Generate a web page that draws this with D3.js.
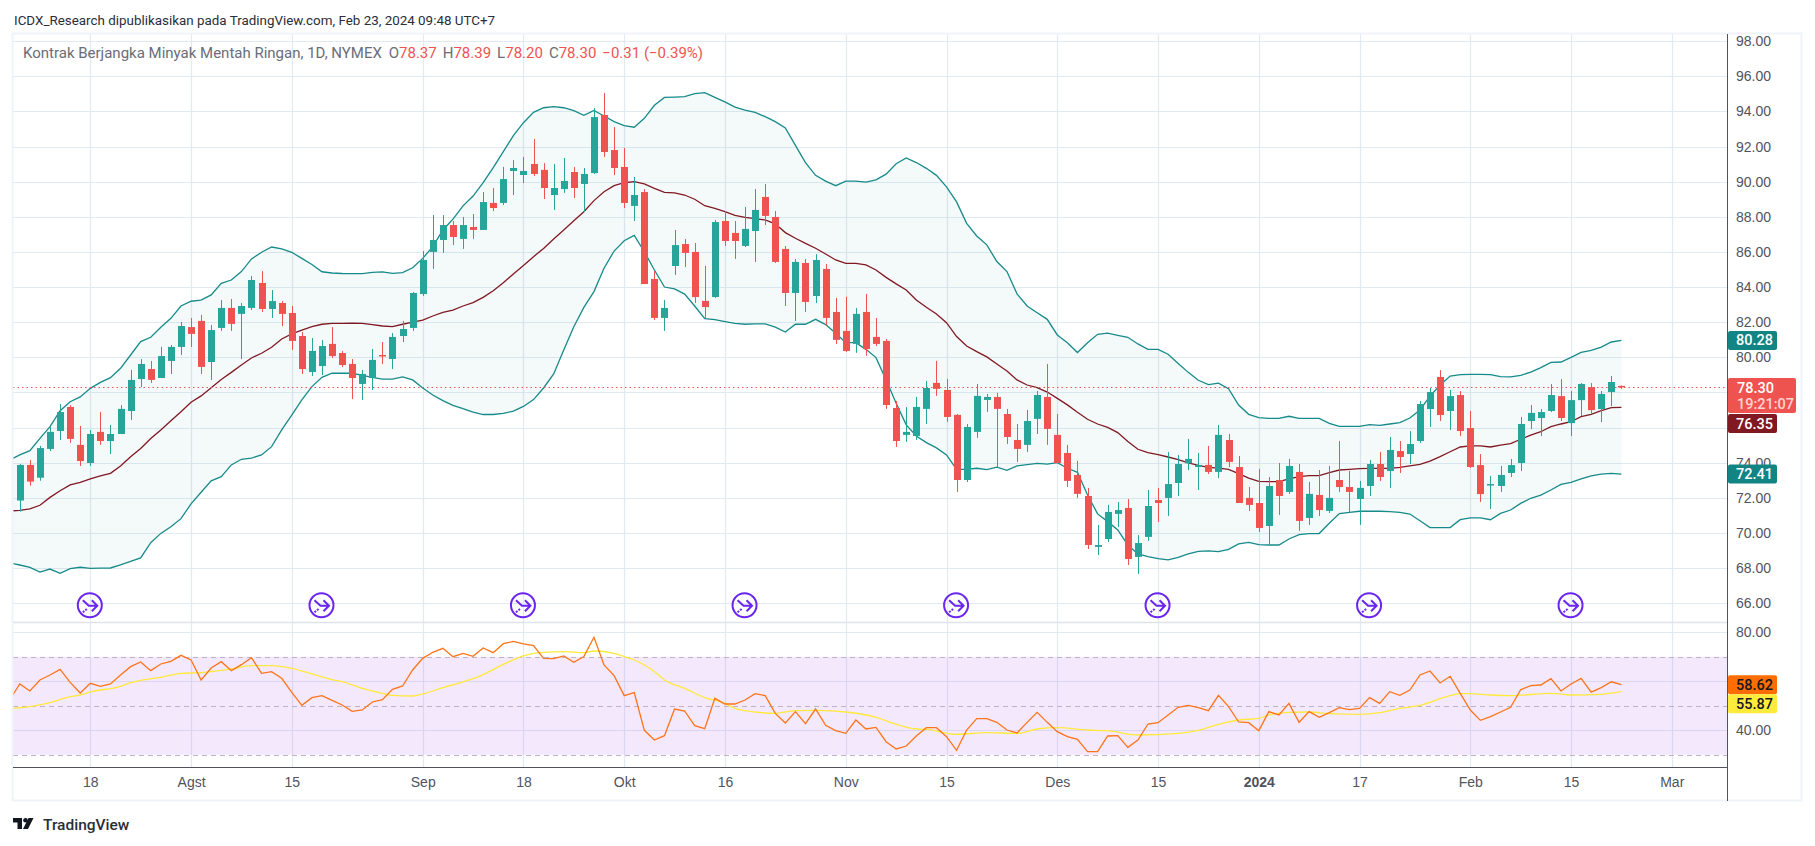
<!DOCTYPE html>
<html>
<head>
<meta charset="utf-8">
<title>Kontrak Berjangka Minyak Mentah Ringan</title>
<script src="https://cdn.jsdelivr.net/npm/d3@7"></script>
<style>
  html, body { margin: 0; padding: 0; background: #fff; }
  svg { display: block; font-family: Roboto, "Liberation Sans", sans-serif; }
  .axis text { fill: #50535e; font-size: 14px; }
</style>
</head>
<body>
<div id="chart"></div>
<script>
// Daily candles, bar 0 = Jul 7 2023, bar 159 = Feb 23 2024
const opens = [
  71.84,73.87,73.14,74.78,75.80,77.17,75.01,73.98,75.75,75.23,
  75.63,76.94,78.76,79.33,78.82,79.79,80.59,81.72,82.07,79.73,
  81.67,82.81,82.47,82.81,84.23,82.75,83.09,82.52,81.21,79.16,
  79.50,80.76,80.24,79.62,78.48,78.82,80.13,79.90,81.21,81.67,
  83.60,86.00,86.68,87.53,86.74,87.42,87.25,88.79,88.79,90.61,
  90.38,91.01,90.67,89.24,89.58,90.55,89.87,90.49,93.80,91.80,
  90.84,88.62,89.41,84.46,82.24,85.20,86.45,86.00,83.21,83.43,
  87.76,87.08,86.34,87.19,89.13,87.99,86.17,83.66,85.37,83.49,
  85.03,82.58,81.50,80.76,82.58,81.16,80.93,77.11,75.58,75.52,
  77.06,78.54,78.14,76.72,73.01,75.75,77.57,77.74,76.77,75.29,
  75.01,76.49,77.74,75.58,74.55,73.30,72.10,69.20,69.65,71.08,
  71.42,68.63,69.77,71.87,71.99,72.84,73.96,73.75,73.87,73.47,
  75.29,73.75,71.99,71.70,70.39,73.01,72.33,73.47,70.85,72.16,
  71.25,73.01,72.61,71.93,72.67,73.92,73.52,74.66,74.49,75.23,
  77.05,78.88,76.94,77.85,75.97,73.86,72.73,72.67,73.41,73.98,
  76.37,76.54,76.94,77.79,76.25,77.56,78.30,77.05,78.02,78.37
];
const closes = [
  73.87,72.92,74.83,75.75,76.88,75.35,74.09,75.63,75.23,75.63,
  77.06,78.71,79.62,78.71,80.07,80.59,81.78,81.33,79.45,81.55,
  82.81,81.90,82.92,84.40,82.75,83.20,82.47,80.93,79.33,80.36,
  80.64,80.07,79.56,78.82,79.05,79.85,80.07,81.16,81.61,83.66,
  85.54,86.68,87.53,86.85,87.53,87.25,88.84,88.50,90.15,90.78,
  90.61,90.44,89.64,89.64,90.04,89.64,90.44,93.68,91.69,90.78,
  88.79,89.24,84.17,82.24,82.81,86.39,85.94,83.43,82.86,87.70,
  86.62,86.62,87.31,88.39,88.05,85.43,83.66,85.43,83.15,85.54,
  82.24,80.99,80.36,82.47,80.47,80.76,77.28,75.23,75.75,77.17,
  78.25,78.20,76.60,73.01,76.03,77.80,77.74,77.06,75.46,74.78,
  76.37,77.85,75.92,73.98,72.96,72.22,69.31,69.31,71.19,71.30,
  68.51,69.42,71.53,71.70,72.78,73.92,74.21,73.87,73.47,75.58,
  74.04,71.70,71.59,70.28,72.67,72.10,73.81,70.68,72.22,71.30,
  71.99,72.61,72.33,72.56,73.92,73.18,74.72,74.32,75.06,77.34,
  78.02,76.71,77.79,75.80,73.75,72.21,72.78,73.30,73.86,76.20,
  76.83,76.88,77.85,76.54,77.56,78.48,76.99,77.91,78.59,78.30
];
const highs = [
  73.92,74.15,74.95,76.05,77.34,77.28,76.09,75.86,76.88,76.14,
  77.28,79.28,79.90,79.79,80.59,80.70,82.01,82.24,82.41,81.84,
  83.26,83.32,83.09,84.63,84.91,83.83,83.20,82.92,81.44,81.10,
  80.98,81.72,80.36,79.90,79.28,80.47,80.87,81.38,82.07,83.72,
  86.05,88.10,88.10,87.76,87.99,88.16,89.41,89.64,90.84,91.23,
  91.41,92.43,91.06,91.01,91.35,90.84,90.78,94.20,95.05,93.11,
  91.92,90.27,89.58,84.91,83.26,87.25,86.74,86.51,85.20,87.82,
  88.33,87.76,88.56,89.58,89.87,88.33,86.34,85.60,85.60,85.88,
  85.31,83.38,83.44,82.81,83.61,82.24,81.04,77.51,77.17,77.74,
  78.65,79.79,78.77,76.77,76.20,78.48,77.91,77.97,77.06,76.20,
  77.00,78.08,79.62,76.77,75.01,74.10,72.56,70.45,71.59,71.76,
  71.93,69.88,72.44,72.56,74.61,74.44,75.35,74.55,74.95,76.14,
  75.63,74.38,72.61,73.64,73.18,73.98,74.21,73.92,72.90,73.58,
  73.81,75.23,73.53,72.96,74.15,74.61,75.46,75.23,75.80,77.51,
  78.25,79.27,78.14,78.08,76.94,74.49,73.24,73.81,74.21,76.60,
  77.28,77.05,78.48,78.76,78.08,78.53,78.53,78.08,78.93,78.39
];
const lows = [
  71.21,72.69,72.97,74.66,75.29,75.12,73.81,73.81,75.01,74.49,
  75.63,76.43,78.31,78.54,78.82,79.05,80.13,80.59,79.05,78.71,
  81.50,81.50,79.90,82.69,82.58,82.24,81.78,80.42,79.05,78.94,
  78.99,79.96,79.45,77.62,77.57,78.14,79.62,79.33,80.87,81.50,
  83.49,85.03,85.94,86.39,86.17,86.74,87.25,88.33,88.67,89.24,
  89.92,90.32,89.01,88.39,89.36,89.07,88.27,90.44,91.41,90.38,
  88.50,87.76,84.17,82.12,81.50,84.69,85.14,83.09,82.24,83.38,
  86.34,85.60,86.28,85.43,87.53,85.37,82.92,82.07,82.58,83.09,
  81.84,80.76,80.30,80.25,80.08,80.64,77.06,74.89,75.18,75.29,
  76.20,77.80,76.32,72.33,72.90,75.41,76.89,73.70,75.06,74.04,
  74.61,75.63,75.01,73.98,72.61,71.99,69.08,68.74,69.48,70.34,
  68.17,67.66,69.54,70.62,70.96,72.10,73.58,72.44,73.35,73.12,
  73.75,71.70,71.25,70.05,69.31,71.02,72.22,70.11,70.45,70.96,
  71.13,72.33,71.19,70.45,72.10,72.95,72.55,73.41,73.92,75.12,
  76.03,76.37,75.86,75.52,73.69,71.76,71.36,72.33,73.18,73.52,
  75.91,75.51,76.88,76.37,75.51,76.65,76.77,76.31,77.22,78.20
];

// Bollinger bands and RSI start one bar earlier (bar -1), cut by the pane edge
const upperBand = [74.15,
  74.44,74.68,75.38,76.05,76.96,77.47,77.74,78.23,78.57,78.84,
  79.37,80.13,80.89,81.14,81.71,82.22,82.92,83.19,83.26,83.55,
  84.21,84.40,84.88,85.60,85.98,86.28,86.17,85.98,85.63,85.28,
  84.87,84.80,84.77,84.76,84.76,84.84,84.86,84.78,84.82,85.10,
  85.63,86.30,87.25,87.87,88.62,89.18,89.94,90.80,91.71,92.62,
  93.36,93.95,94.21,94.27,94.21,94.04,93.78,94.06,93.74,93.42,
  93.19,93.10,93.61,94.35,94.80,94.82,94.84,95.01,95.07,94.80,
  94.54,94.25,94.08,93.95,93.70,93.42,93.06,92.07,91.09,90.36,
  90.03,89.77,90.03,90.03,89.97,90.10,90.43,91.02,91.35,91.09,
  90.76,90.36,89.70,88.85,87.63,86.91,86.40,85.45,84.88,83.61,
  82.92,82.54,82.16,81.27,80.83,80.27,80.83,81.31,81.37,81.25,
  81.14,80.76,80.45,80.45,80.17,79.65,79.14,78.69,78.44,78.53,
  78.21,77.28,76.75,76.56,76.52,76.52,76.64,76.52,76.52,76.52,
  76.24,76.07,76.07,76.07,76.16,76.12,76.20,76.28,76.54,77.00,
  77.79,78.42,78.93,79.01,79.03,79.03,79.01,78.90,78.88,78.97,
  79.16,79.41,79.71,79.73,79.99,80.28,80.39,80.58,80.87,80.96
];
const basisBand = [71.25,
  71.28,71.36,71.57,72.02,72.40,72.73,72.88,73.07,73.24,73.39,
  73.81,74.34,74.80,75.37,75.86,76.39,76.90,77.44,77.80,78.27,
  78.74,79.14,79.56,79.96,80.23,80.57,81.04,81.33,81.55,81.74,
  81.88,81.93,81.93,81.95,81.93,81.86,81.78,81.74,81.88,82.00,
  82.12,82.35,82.56,82.69,82.92,83.11,83.41,83.79,84.25,84.74,
  85.22,85.73,86.20,86.74,87.25,87.78,88.29,88.92,89.43,89.77,
  89.94,90.00,89.87,89.62,89.39,89.36,89.24,89.00,88.63,88.48,
  88.29,88.08,87.97,87.89,87.82,87.60,87.10,86.78,86.49,86.21,
  85.88,85.54,85.35,85.35,85.26,84.97,84.55,84.18,83.83,83.26,
  82.85,82.47,81.97,81.18,80.64,80.32,80.02,79.62,79.22,78.71,
  78.42,78.27,78.02,77.66,77.29,76.87,76.47,76.20,76.01,75.71,
  75.20,74.76,74.57,74.46,74.32,74.17,73.98,73.85,73.73,73.69,
  73.62,73.37,73.12,72.93,72.92,72.92,73.07,73.20,73.26,73.26,
  73.43,73.58,73.62,73.66,73.67,73.67,73.67,73.73,73.81,73.90,
  74.09,74.34,74.62,74.89,74.95,74.95,74.89,75.00,75.08,75.33,
  75.57,75.76,76.05,76.20,76.33,76.62,76.75,76.96,77.13,77.15
];
const lowerBand = [68.29,
  68.17,68.03,67.77,67.94,67.70,67.96,68.04,67.98,67.99,68.00,
  68.18,68.37,68.57,69.44,69.97,70.35,70.81,71.65,72.31,72.96,
  73.20,73.87,74.19,74.26,74.44,74.91,75.86,76.71,77.57,78.33,
  78.86,79.09,79.09,79.09,78.97,78.86,78.75,78.75,78.88,78.71,
  78.25,77.85,77.53,77.26,77.07,76.87,76.74,76.74,76.80,76.93,
  77.20,77.59,78.25,79.05,80.41,81.74,82.84,83.74,85.07,86.05,
  86.64,86.94,86.01,84.97,84.00,83.89,83.60,82.92,82.20,82.14,
  82.03,81.93,81.88,81.90,81.90,81.72,81.44,81.88,81.88,82.16,
  81.86,81.37,80.83,80.83,80.45,79.98,78.71,77.38,76.15,75.52,
  75.14,74.84,74.44,73.62,73.62,73.68,73.60,73.74,73.56,73.81,
  73.89,73.96,73.92,74.00,73.68,73.45,72.16,71.08,70.64,70.17,
  69.31,68.80,68.65,68.53,68.46,68.61,68.80,68.95,68.97,68.93,
  69.06,69.37,69.46,69.33,69.31,69.31,69.65,69.90,69.96,69.96,
  70.55,71.10,71.17,71.23,71.23,71.23,71.21,71.17,71.07,70.69,
  70.30,70.30,70.30,70.75,70.85,70.85,70.75,71.11,71.30,71.68,
  71.97,72.15,72.44,72.76,72.88,73.07,73.24,73.35,73.39,73.35
];
const rsiValues = [52.5,
  58.90,56.05,60.54,62.58,64.89,59.58,55.23,59.17,57.95,58.90,
  62.58,65.98,67.88,64.35,67.07,68.15,70.60,68.70,60.54,65.43,
  68.02,64.35,66.79,69.65,63.26,63.94,61.22,55.50,50.20,53.32,
  54.14,52.24,50.33,47.75,48.29,51.56,52.51,56.73,58.09,64.62,
  69.38,71.83,73.46,70.06,71.42,70.20,73.60,71.69,75.37,76.32,
  75.23,74.55,69.38,69.24,70.33,67.75,70.06,77.95,66.66,62.30,
  54.14,55.36,40.00,36.04,37.81,48.69,47.88,41.89,40.67,53.05,
  50.73,50.73,52.37,54.95,54.14,46.92,42.98,47.60,42.71,48.69,
  42.03,39.85,38.76,44.20,40.53,41.21,35.36,32.37,33.59,37.67,
  41.07,41.07,37.40,31.82,40.12,44.75,44.75,43.25,40.12,38.90,
  43.25,47.33,43.25,39.44,37.40,36.31,31.28,31.28,37.67,37.81,
  33.05,36.04,42.57,43.12,46.24,49.37,50.19,49.24,48.01,54.27,
  49.65,43.39,43.12,39.85,47.61,46.25,51.01,43.26,47.61,45.30,
  47.20,49.24,48.43,48.97,53.32,51.01,55.77,54.28,56.45,62.58,
  64.21,59.31,62.03,55.09,48.29,44.07,45.57,47.47,49.38,56.59,
  58.22,58.49,61.08,56.05,58.90,61.22,55.55,57.43,59.80,58.62
];
// RSI moving average, read at these bars only
const rsiMaBars = [-1,1,3,5,6,7,10,11,12,14,16,18,21,23,25,27,29,31,32,34,36,37,39,40,42,44,46,48,50,51,52,54,56,57,59,60,61,62,63,64,66,68,70,71,73,75,77,79,82,85,87,89,90,93,96,99,101,103,106,108,111,115,117,119,121,123,124,126,128,130,133,135,137,139,142,143,144,146,148,152,154,157,159];
const rsiMaValues = [48.83,49.65,51.28,53.73,54.41,55.64,57.95,59.45,60.40,61.62,63.26,63.53,65.03,66.39,66.39,65.30,62.98,60.67,59.86,57.14,55.09,54.27,54.00,54.82,57.41,59.72,62.71,66.93,70.33,71.42,71.83,72.10,71.69,72.37,71.42,70.06,68.70,66.66,63.94,60.54,57.14,53.32,51.01,48.97,47.47,46.93,48.02,48.15,47.47,45.30,42.44,40.54,40.39,38.35,39.03,38.76,40.53,41.07,40.12,39.85,38.08,38.76,39.99,42.44,44.20,44.89,46.25,47.34,47.47,46.79,46.52,47.20,48.97,50.20,54.14,54.96,54.96,54.41,54.14,55.09,54.41,54.70,55.87];

const priceTicks = d3.range(66, 99, 2);
const rsiTicks = [80, 60, 40];
const rsiDashed = [70, 50, 30];
// these axis labels sit fully behind the price tags in the reference
const priceLabels = priceTicks.filter(d => d !== 78 && d !== 76);
const rsiLabels = [80, 40];

const timeBars = [7,17,27,40,50,60,70,82,92,103,113,123,133,144,154,164];
const timeLabels = ["18","Agst","15","Sep","18","Okt","16","Nov","15","Des","15","2024","17","Feb","15","Mar"];
const eventBars = [7,30,50,72,93,113,134,154];

const lastPrice = 78.30;
const headerText = "ICDX_Research dipublikasikan pada TradingView.com, Feb 23, 2024 09:48 UTC+7";
const legendTitle = "Kontrak Berjangka Minyak Mentah Ringan, 1D, NYMEX";
const legendOhlc = [["O","78.37"],["H","78.39"],["L","78.20"],["C","78.30"]];
const legendChange = "\u22120.31 (\u22120.39%)";

const W = 1815, H = 846;
const plotLeft = 13, axisX = 1727, frameR = 1802, plotTop = 34;
const paneSplit = 622, rsiBottom = 767.5, frameB = 801;

const UP = "#26a69a", DOWN = "#ef5350", GRID = "#e2eaf1", BAND = "#178a8a", BASIS = "#801922";

const x = d3.scaleLinear().domain([0, 159]).range([19.8, 1621.4]);
const y = d3.scaleLinear().domain([66, 98]).range([603.1, 41.2]);
const rsiY = d3.scaleLinear().domain([30, 80]).range([754.8, 632.3]);

const svg = d3.select("#chart").append("svg").attr("width", W).attr("height", H);

svg.append("text").attr("x", 14).attr("y", 25)
  .attr("font-size", 13.4).attr("fill", "#2a2e39").text(headerText);

const defs = svg.append("defs");
defs.append("clipPath").attr("id", "clip-price").append("rect")
  .attr("x", plotLeft).attr("y", plotTop).attr("width", axisX - plotLeft).attr("height", paneSplit - plotTop);
defs.append("clipPath").attr("id", "clip-rsi").append("rect")
  .attr("x", plotLeft).attr("y", paneSplit).attr("width", axisX - plotLeft).attr("height", rsiBottom - paneSplit);

// Grid
const crisp = v => Math.round(v) + 0.5;
svg.append("g").selectAll("line").data(timeBars).join("line")
  .attr("x1", d => crisp(x(d))).attr("x2", d => crisp(x(d)))
  .attr("y1", plotTop).attr("y2", rsiBottom)
  .attr("stroke", GRID).attr("stroke-width", 1.2);
svg.append("g").selectAll("line").data(priceTicks).join("line")
  .attr("x1", plotLeft).attr("x2", axisX)
  .attr("y1", d => crisp(y(d))).attr("y2", d => crisp(y(d)))
  .attr("stroke", GRID).attr("stroke-width", 1.2);
svg.append("g").selectAll("line").data(rsiTicks).join("line")
  .attr("x1", plotLeft).attr("x2", axisX)
  .attr("y1", d => crisp(rsiY(d))).attr("y2", d => crisp(rsiY(d)))
  .attr("stroke", GRID).attr("stroke-width", 1.2);

// Bollinger bands
const bandBars = upperBand.map((_, i) => i - 1);
const pricePane = svg.append("g").attr("clip-path", "url(#clip-price)");

pricePane.append("path").datum(bandBars)
  .attr("d", d3.area().x(d => x(d))
    .y0(d => y(lowerBand[d + 1])).y1(d => y(upperBand[d + 1])))
  .attr("fill", "rgba(23,138,138,0.048)");

const bandLine = values => d3.line().x(d => x(d)).y(d => y(values[d + 1]))(bandBars);
[[upperBand, BAND], [lowerBand, BAND], [basisBand, BASIS]].forEach(([values, colour]) => {
  pricePane.append("path")
    .attr("d", bandLine(values))
    .attr("fill", "none").attr("stroke", colour).attr("stroke-width", 1.3);
});

// Candles
const candles = pricePane.append("g").selectAll("g").data(d3.range(opens.length)).join("g")
  .attr("fill", d => closes[d] >= opens[d] ? UP : DOWN);
candles.append("rect")
  .attr("x", d => Math.round(x(d)))
  .attr("width", 1)
  .attr("y", d => y(highs[d]))
  .attr("height", d => y(lows[d]) - y(highs[d]));
candles.append("rect")
  .attr("x", d => Math.round(x(d)) - 3)
  .attr("width", 7)
  .attr("y", d => y(Math.max(opens[d], closes[d])))
  .attr("height", d => Math.max(1.5, Math.abs(y(opens[d]) - y(closes[d]))));

// Last price line
svg.append("line")
  .attr("x1", plotLeft).attr("x2", axisX)
  .attr("y1", crisp(y(lastPrice))).attr("y2", crisp(y(lastPrice)))
  .attr("stroke", DOWN).attr("stroke-width", 1).attr("stroke-dasharray", "1.5 3");

// Event markers
const events = svg.append("g").selectAll("g").data(eventBars).join("g")
  .attr("transform", d => `translate(${x(d) - 0.5},605.3)`)
  .attr("fill", "none").attr("stroke", "#6a25f0").attr("stroke-width", 2);
events.append("circle").attr("r", 12);
events.append("path").attr("d", "M-7,-5 L-1,0.5 H7 M2,-5 L7.5,0.5 L2,6");
events.append("path").attr("d", "M-7,7 L-2,3").attr("stroke-dasharray", "2 1.2");

// RSI pane
const rsiPane = svg.append("g").attr("clip-path", "url(#clip-rsi)");
rsiPane.append("rect")
  .attr("x", plotLeft).attr("width", axisX - plotLeft)
  .attr("y", rsiY(70)).attr("height", rsiY(30) - rsiY(70))
  .attr("fill", "rgba(155,50,240,0.112)");
rsiPane.append("g").selectAll("line").data(rsiDashed).join("line")
  .attr("x1", plotLeft).attr("x2", axisX)
  .attr("y1", d => crisp(rsiY(d))).attr("y2", d => crisp(rsiY(d)))
  .attr("stroke", "#bdb2c6").attr("stroke-width", 1).attr("stroke-dasharray", "5 4");

rsiPane.append("path").datum(rsiMaBars)
  .attr("d", d3.line().x(d => x(d)).y((d, i) => rsiY(rsiMaValues[i])).curve(d3.curveMonotoneX))
  .attr("fill", "none").attr("stroke", "#ffe93b").attr("stroke-width", 1.3);
const rsiBars = rsiValues.map((_, i) => i - 1);
rsiPane.append("path").datum(rsiBars)
  .attr("d", d3.line().x(d => x(d)).y(d => rsiY(rsiValues[d + 1])))
  .attr("fill", "none").attr("stroke", "#ff7417").attr("stroke-width", 1.3);

// Frame and separators
const frame = svg.append("g");
frame.append("rect")
  .attr("x", plotLeft - 0.5).attr("y", plotTop - 0.5)
  .attr("width", frameR - plotLeft).attr("height", frameB - plotTop)
  .attr("fill", "none").attr("stroke", "#f0f3fa").attr("stroke-width", 2);
frame.append("line").attr("x1", plotLeft).attr("x2", axisX).attr("y1", paneSplit + 0.5).attr("y2", paneSplit + 0.5)
  .attr("stroke", "#e0e3eb").attr("stroke-width", 1.5);
frame.append("line").attr("x1", plotLeft).attr("x2", axisX).attr("y1", rsiBottom).attr("y2", rsiBottom)
  .attr("stroke", "#50535e");
frame.append("line").attr("x1", axisX + 0.5).attr("x2", axisX + 0.5).attr("y1", plotTop).attr("y2", frameB)
  .attr("stroke", "#50535e");

// Axes
svg.append("g").attr("class", "axis").attr("transform", `translate(${axisX},0)`)
  .call(d3.axisRight(y).tickValues(priceLabels).tickFormat(d3.format(".2f")).tickSize(0).tickPadding(9))
  .call(g => g.select(".domain").remove());
svg.append("g").attr("class", "axis").attr("transform", `translate(${axisX},0)`)
  .call(d3.axisRight(rsiY).tickValues(rsiLabels).tickFormat(d3.format(".2f")).tickSize(0).tickPadding(9))
  .call(g => g.select(".domain").remove());
svg.append("g").attr("class", "axis").attr("transform", `translate(0,${rsiBottom})`)
  .call(d3.axisBottom(x).tickValues(timeBars).tickFormat((d, i) => timeLabels[i]).tickSize(0).tickPadding(10))
  .call(g => g.select(".domain").remove())
  .call(g => g.selectAll(".tick text").filter(d => d === 123).attr("font-weight", 700).attr("fill", "#131722"));

// Price tags on the right axis
const tagLayer = svg.append("g").attr("font-size", 14.5).attr("font-weight", 500);
function addTag(text, centerY, fill, textFill) {
  tagLayer.append("rect")
    .attr("x", axisX + 1).attr("y", centerY - 9.5)
    .attr("width", 49).attr("height", 19).attr("rx", 2).attr("fill", fill);
  tagLayer.append("text")
    .attr("x", axisX + 9).attr("y", centerY + 5)
    .attr("fill", textFill).text(text);
}
addTag("80.28", y(upperBand[upperBand.length - 1]), "#138484", "#fff");
addTag("72.41", y(lowerBand[lowerBand.length - 1]), "#138484", "#fff");
addTag("76.35", 423.5, BASIS, "#fff");
addTag("58.62", rsiY(rsiValues[rsiValues.length - 1]), "#ff6d00", "#131722");
addTag("55.87", 703.8, "#ffeb3b", "#131722");

tagLayer.append("rect")
  .attr("x", axisX + 1).attr("y", 378).attr("width", 68).attr("height", 35).attr("rx", 2).attr("fill", DOWN);
tagLayer.append("text").attr("x", axisX + 10).attr("y", 393).attr("fill", "#fff").text("78.30");
tagLayer.append("text").attr("x", axisX + 10).attr("y", 409).attr("fill", "#fcd3d3").text("19:21:07");

// Legend line
const legend = svg.append("text").attr("x", 23).attr("y", 58).attr("font-size", 15).attr("fill", "#6a6d78");
legend.append("tspan").text(legendTitle);
legendOhlc.forEach(([k, v], i) => {
  legend.append("tspan").attr("dx", i === 0 ? 7 : 6).text(k);
  legend.append("tspan").attr("fill", DOWN).text(v);
});
legend.append("tspan").attr("dx", 6).attr("fill", DOWN).text(legendChange);

// TradingView watermark
const logo = svg.append("g").attr("transform", "translate(13,818)").attr("fill", "#131722");
logo.append("path").attr("d", "M0,0 H9 V11 H4.5 V4.5 H0 Z");
logo.append("circle").attr("cx", 12.5).attr("cy", 2.3).attr("r", 2.3);
logo.append("path").attr("d", "M15.5,0 H20.5 L15,11 H10 Z");
svg.append("text").attr("x", 43).attr("y", 830)
  .attr("font-size", 15.5).attr("font-weight", 500).attr("fill", "#2a2e39").text("TradingView");
</script>
</body>
</html>
